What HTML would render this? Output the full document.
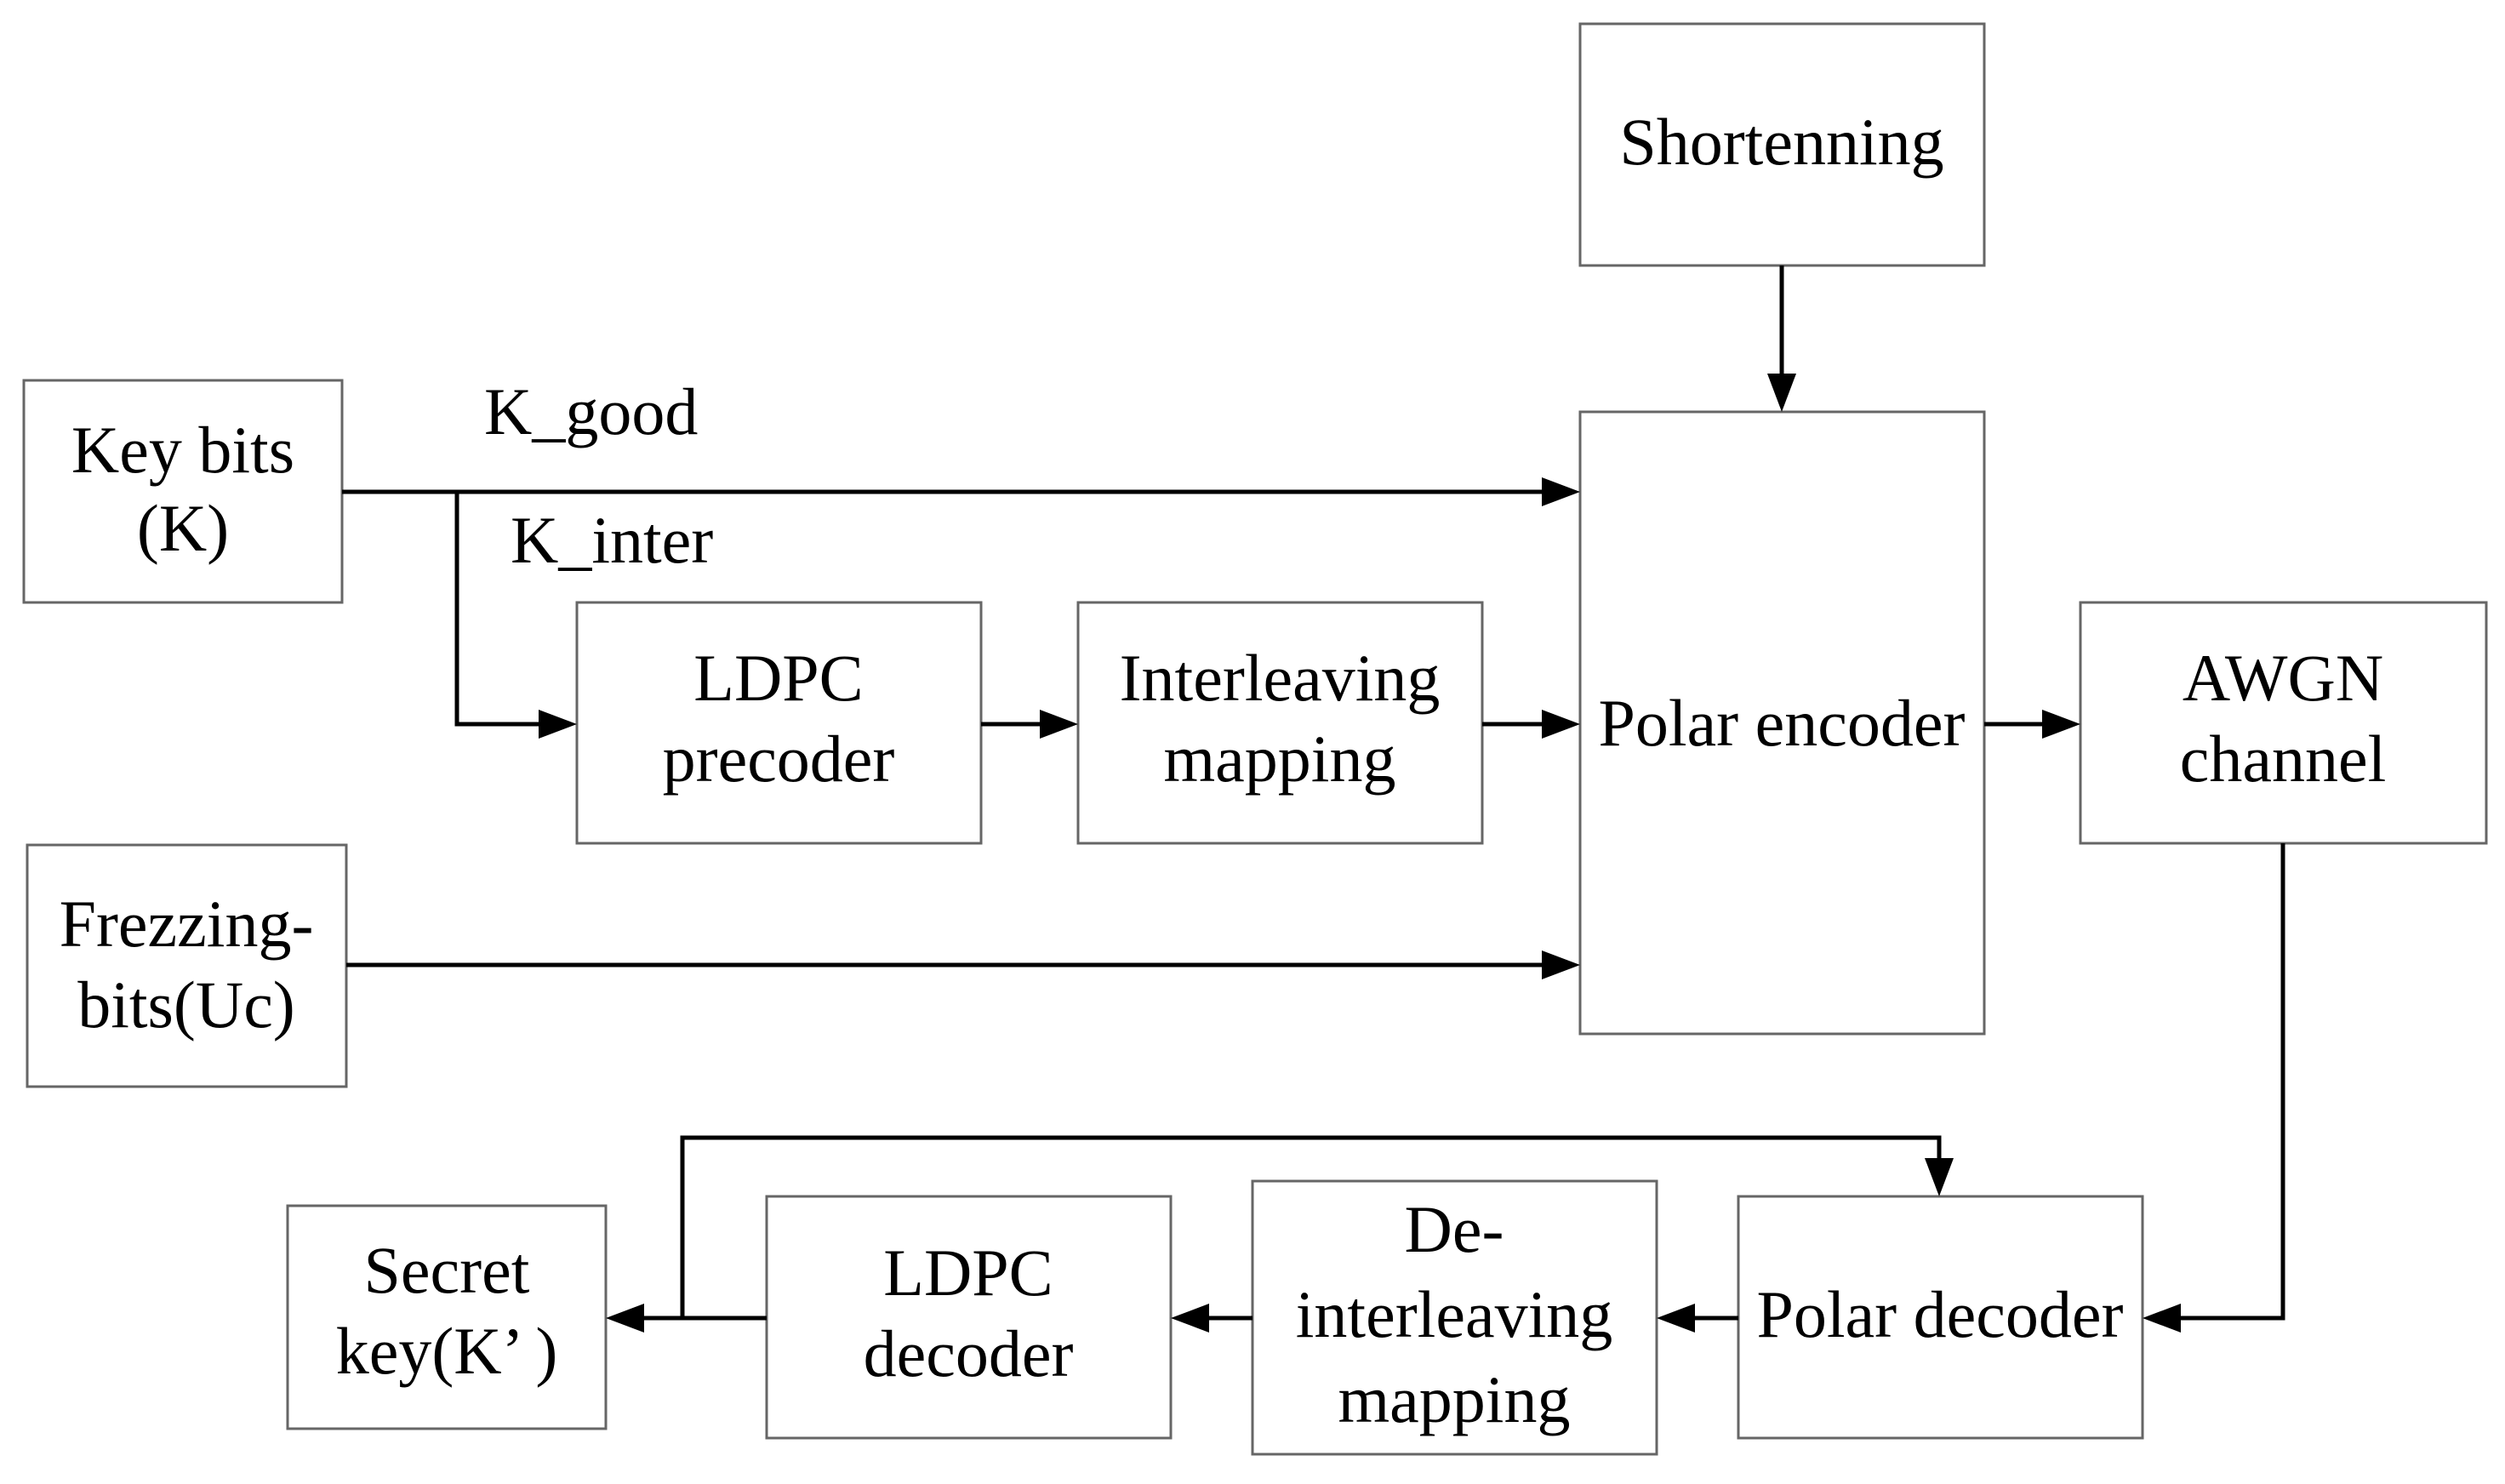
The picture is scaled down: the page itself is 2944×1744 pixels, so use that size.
<!DOCTYPE html>
<html><head><meta charset="utf-8"><style>html,body{margin:0;padding:0;background:#fff}svg{display:block}</style></head>
<body>
<svg width="2944" height="1744" viewBox="0 0 2944 1744" xmlns="http://www.w3.org/2000/svg">
<g fill="#fff" stroke="#666" stroke-width="3">
<rect x="1857" y="28" width="475" height="284"/>
<rect x="28" y="447" width="374" height="261"/>
<rect x="1857" y="484" width="475" height="731"/>
<rect x="678" y="708" width="475" height="283"/>
<rect x="1267" y="708" width="475" height="283"/>
<rect x="2445" y="708" width="477" height="283"/>
<rect x="32" y="993" width="375" height="284"/>
<rect x="338" y="1417" width="374" height="262"/>
<rect x="901" y="1406" width="475" height="284"/>
<rect x="1472" y="1388" width="475" height="321"/>
<rect x="2043" y="1406" width="475" height="284"/>
</g>
<g stroke="#000" stroke-width="5" fill="none">
<polyline points="402,578 1815,578"/>
<polyline points="537,578 537,851 636,851"/>
<line x1="1153" y1="851" x2="1225" y2="851"/>
<line x1="1742" y1="851" x2="1815" y2="851"/>
<line x1="2332" y1="851" x2="2403" y2="851"/>
<line x1="407" y1="1134" x2="1815" y2="1134"/>
<line x1="2094" y1="312" x2="2094" y2="442"/>
<polyline points="2683,991 2683,1549 2560,1549"/>
<line x1="2043" y1="1549" x2="1989" y2="1549"/>
<line x1="1472" y1="1549" x2="1418" y2="1549"/>
<line x1="901" y1="1549" x2="754" y2="1549"/>
<polyline points="802,1549 802,1337 2279,1337 2279,1364"/>
</g>
<g fill="#000">
<polygon points="1857,578 1812,561 1812,595"/>
<polygon points="678,851 633,834 633,868"/>
<polygon points="1267,851 1222,834 1222,868"/>
<polygon points="1857,851 1812,834 1812,868"/>
<polygon points="2445,851 2400,834 2400,868"/>
<polygon points="1857,1134 1812,1117 1812,1151"/>
<polygon points="2094,484 2077,439 2111,439"/>
<polygon points="2518,1549 2563,1532 2563,1566"/>
<polygon points="1947,1549 1992,1532 1992,1566"/>
<polygon points="1376,1549 1421,1532 1421,1566"/>
<polygon points="712,1549 757,1532 757,1566"/>
<polygon points="2279,1406 2262,1361 2296,1361"/>
</g>
<g font-family="Liberation Serif, serif" font-size="78" fill="#000" text-anchor="middle">
<text x="2094" y="193">Shortenning</text>
<text x="215" y="555">Key bits</text>
<text x="215" y="647">(K)</text>
<text x="569" y="510" text-anchor="start">K_good</text>
<text x="600" y="661" text-anchor="start">K_inter</text>
<text x="915" y="823">LDPC</text>
<text x="915" y="918">precoder</text>
<text x="1504" y="823">Interleaving</text>
<text x="1504" y="918">mapping</text>
<text x="2094" y="876">Polar encoder</text>
<text x="2683" y="823">AWGN</text>
<text x="2683" y="918">channel</text>
<text x="219" y="1112">Frezzing-</text>
<text x="219" y="1207">bits(Uc)</text>
<text x="525" y="1519">Secret</text>
<text x="525" y="1614">key(K’ )</text>
<text x="1138" y="1522">LDPC</text>
<text x="1138" y="1617">decoder</text>
<text x="1709" y="1471">De-</text>
<text x="1709" y="1571">interleaving</text>
<text x="1709" y="1671">mapping</text>
<text x="2280" y="1571">Polar decoder</text>
</g>
</svg>
</body></html>
